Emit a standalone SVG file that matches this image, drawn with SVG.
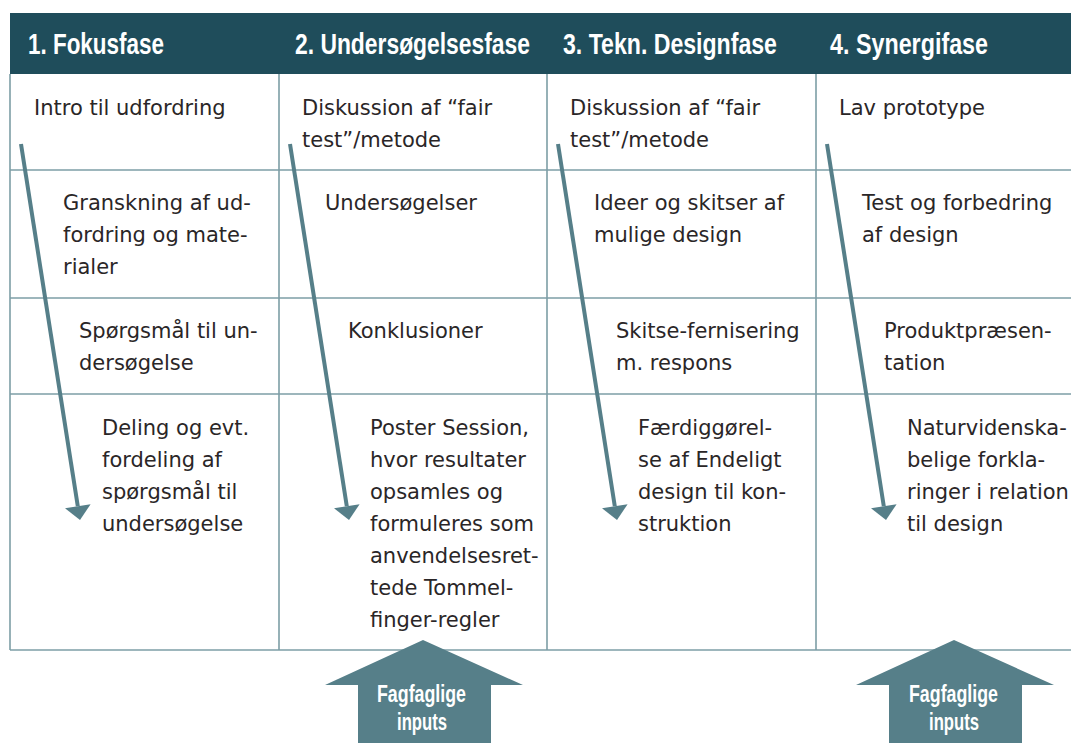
<svg xmlns="http://www.w3.org/2000/svg" width="1071" height="743" viewBox="0 0 1071 743">
<style>
.hdr{font-family:"Liberation Sans",Arial,sans-serif;font-weight:bold;font-size:30px;fill:#ffffff}
.body{font-family:"DejaVu Sans","Liberation Sans",sans-serif;font-size:21px;fill:#2a2627}
.grid{stroke:#7d9ea6;stroke-width:1.6;fill:none}
.flow{stroke:#567f89;stroke-width:4;fill:none}
.head{fill:#567f89}
.big{fill:#567f89}
.btxt{font-family:"Liberation Sans",Arial,sans-serif;font-weight:bold;font-size:23px;fill:#ffffff}
</style>
<rect width="1071" height="743" fill="#ffffff"/>
<g id="header">
<rect x="10" y="13" width="1061" height="61" fill="#1f4d5b"/>
<text class="hdr" transform="translate(28 54) scale(0.75 1)" textLength="181.3" lengthAdjust="spacingAndGlyphs">1. Fokusfase</text>
<text class="hdr" transform="translate(295 54) scale(0.75 1)" textLength="313.3" lengthAdjust="spacingAndGlyphs">2. Undersøgelsesfase</text>
<text class="hdr" transform="translate(563 54) scale(0.75 1)" textLength="285.3" lengthAdjust="spacingAndGlyphs">3. Tekn. Designfase</text>
<text class="hdr" transform="translate(830 54) scale(0.75 1)" textLength="210.7" lengthAdjust="spacingAndGlyphs">4. Synergifase</text>
</g>
<g id="grid">
<path class="grid" d="M10 74 V650 M279 74 V650 M547 74 V650 M816 74 V650 M10 170 H1071 M10 298 H1071 M10 394 H1071 M10 650 H1071"/>
</g>
<g id="col1">
<text class="body" x="34" y="115">Intro til udfordring</text>
<text class="body" x="63" y="210"><tspan x="63">Granskning af ud-</tspan><tspan x="63" dy="32">fordring og mate-</tspan><tspan x="63" dy="32">rialer</tspan></text>
<text class="body" x="79" y="338"><tspan x="79">Spørgsmål til un-</tspan><tspan x="79" dy="32">dersøgelse</tspan></text>
<text class="body" x="102" y="435"><tspan x="102">Deling og evt.</tspan><tspan x="102" dy="32">fordeling af</tspan><tspan x="102" dy="32">spørgsmål til</tspan><tspan x="102" dy="32">undersøgelse</tspan></text>
</g>
<g id="col2">
<text class="body" x="302" y="115"><tspan x="302">Diskussion af “fair</tspan><tspan x="302" dy="32">test”/metode</tspan></text>
<text class="body" x="325" y="210">Undersøgelser</text>
<text class="body" x="348" y="338">Konklusioner</text>
<text class="body" x="370" y="435"><tspan x="370">Poster Session,</tspan><tspan x="370" dy="32">hvor resultater</tspan><tspan x="370" dy="32">opsamles og</tspan><tspan x="370" dy="32">formuleres som</tspan><tspan x="370" dy="32">anvendelsesret-</tspan><tspan x="370" dy="32">tede Tommel-</tspan><tspan x="370" dy="32">finger-regler</tspan></text>
</g>
<g id="col3">
<text class="body" x="570" y="115"><tspan x="570">Diskussion af “fair</tspan><tspan x="570" dy="32">test”/metode</tspan></text>
<text class="body" x="594" y="210"><tspan x="594">Ideer og skitser af</tspan><tspan x="594" dy="32">mulige design</tspan></text>
<text class="body" x="616" y="338"><tspan x="616">Skitse-fernisering</tspan><tspan x="616" dy="32">m. respons</tspan></text>
<text class="body" x="638" y="435"><tspan x="638">Færdiggørel-</tspan><tspan x="638" dy="32">se af Endeligt</tspan><tspan x="638" dy="32">design til kon-</tspan><tspan x="638" dy="32">struktion</tspan></text>
</g>
<g id="col4">
<text class="body" x="839" y="115">Lav prototype</text>
<text class="body" x="862" y="210"><tspan x="862">Test og forbedring</tspan><tspan x="862" dy="32">af design</tspan></text>
<text class="body" x="884" y="338"><tspan x="884">Produktpræsen-</tspan><tspan x="884" dy="32">tation</tspan></text>
<text class="body" x="907" y="435"><tspan x="907">Naturvidenska-</tspan><tspan x="907" dy="32">belige forkla-</tspan><tspan x="907" dy="32">ringer i relation</tspan><tspan x="907" dy="32">til design</tspan></text>
</g>
<g id="connectors">
<path class="flow" d="M21 144 L77.8 506.2"/><polygon class="head" points="80,520 90.6,504.2 65,508.2"/>
<path class="flow" d="M290 144 L346.8 506.2"/><polygon class="head" points="349,520 359.6,504.2 334,508.2"/>
<path class="flow" d="M558 144 L614.8 506.2"/><polygon class="head" points="617,520 627.6,504.2 602,508.2"/>
<path class="flow" d="M827 144 L883.8 506.2"/><polygon class="head" points="886,520 896.6,504.2 871,508.2"/>
</g>
<g id="input1">
<polygon class="big" points="423,640 523,685 491,685 491,743 358,743 358,685 325,685"/>
<text class="btxt" transform="translate(421.5 702) scale(0.75 1)" text-anchor="middle" textLength="118.7" lengthAdjust="spacingAndGlyphs">Fagfaglige</text>
<text class="btxt" transform="translate(422 730) scale(0.75 1)" text-anchor="middle" textLength="66.7" lengthAdjust="spacingAndGlyphs">inputs</text>
</g>
<g id="input2">
<polygon class="big" points="954,640 1054,685 1022,685 1022,743 889,743 889,685 856,685"/>
<text class="btxt" transform="translate(953.5 702) scale(0.75 1)" text-anchor="middle" textLength="118.7" lengthAdjust="spacingAndGlyphs">Fagfaglige</text>
<text class="btxt" transform="translate(954 730) scale(0.75 1)" text-anchor="middle" textLength="66.7" lengthAdjust="spacingAndGlyphs">inputs</text>
</g>
</svg>
